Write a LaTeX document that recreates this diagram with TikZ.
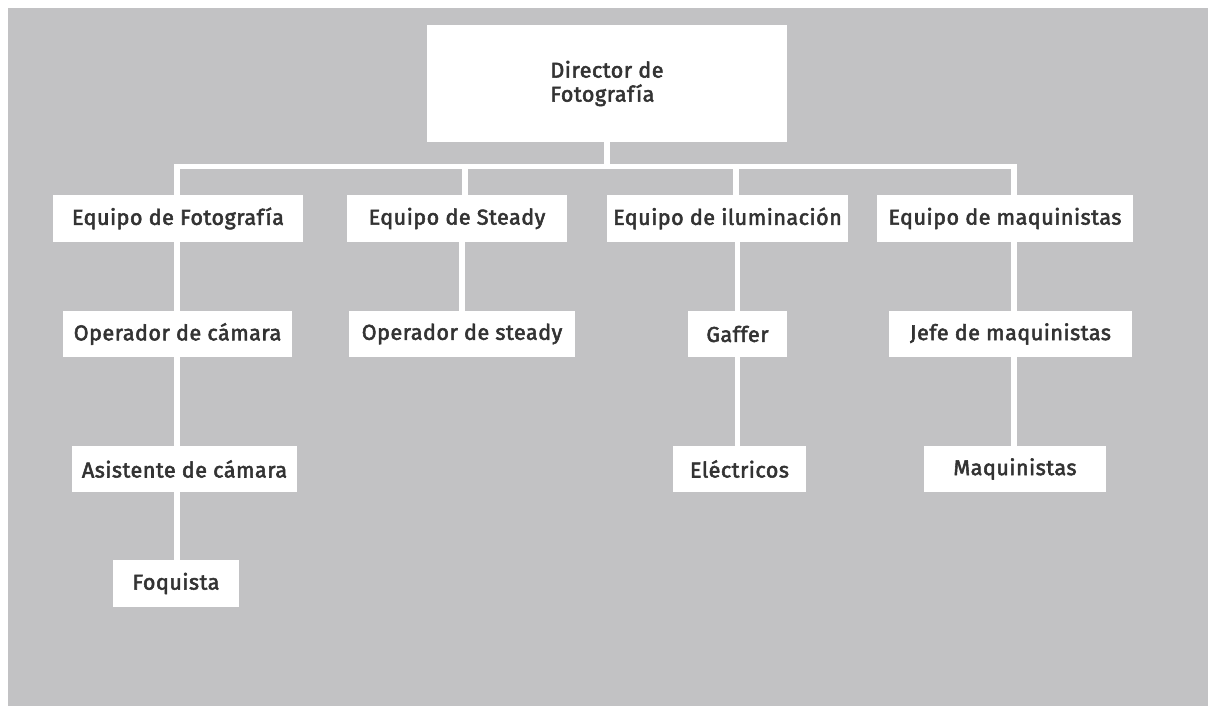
\documentclass[tikz,border=0pt]{standalone}
\usepackage{fontspec}
\setmainfont{Fira Sans}
\newfontfamily\boxfont{Fira Sans}[FakeBold=2.5, LetterSpace=2.5]
\pgfdeclarelayer{back}
\pgfdeclarelayer{lines}
\pgfsetlayers{back,lines,main}
\definecolor{bggray}{HTML}{C2C2C4}
\definecolor{txt}{HTML}{333333}
\tikzset{
  box/.style={fill=white, draw=none, inner sep=0pt, minimum height=47pt, text=txt, font=\boxfont\fontsize{21.5}{24}\selectfont, align=center},
  conn/.style={draw=white, line width=5.5pt}
}
\begin{document}
\begin{tikzpicture}[x=1pt,y=-1pt]
\useasboundingbox (0,0) rectangle (1208,706);
\begin{pgfonlayer}{back}
  \fill[white] (0,0) rectangle (1208,706);
  \fill[bggray] (8,8) rectangle (1208,706);
\end{pgfonlayer}
\node[box, minimum width=360pt, minimum height=117pt, align=left] (dir) at (607,83.5) {Director de\\Fotografía};
\node[box, minimum width=250pt] (ef) at (178,218.5) {Equipo de Fotografía};
\node[box, minimum width=220pt] (es) at (457,218.5) {Equipo de Steady};
\node[box, minimum width=241pt] (ei) at (727.5,218.5) {Equipo de iluminación};
\node[box, minimum width=256pt] (em) at (1005,218.5) {Equipo de maquinistas};
\node[box, minimum width=229pt, minimum height=46pt] (oc) at (177.5,334) {Operador de cámara};
\node[box, minimum width=226pt, minimum height=46pt] (os) at (462,334) {Operador de steady};
\node[box, minimum width=99pt, minimum height=46pt] (ga) at (737.5,334) {Gaffer};
\node[box, minimum width=243pt, minimum height=46pt] (jm) at (1010.5,334) {Jefe de maquinistas};
\node[box, minimum width=225pt, minimum height=46pt] (ac) at (184.5,469) {Asistente de cámara};
\node[box, minimum width=133pt, minimum height=46pt] (el) at (739.5,469) {Eléctricos};
\node[box, minimum width=182pt, minimum height=46pt] (mq) at (1015,469) {Maquinistas};
\node[box, minimum width=126pt] (fq) at (176,583.5) {Foquista};
\coordinate (k1) at (177,166.5);
\coordinate (k2) at (465,166.5);
\coordinate (k3) at (736,166.5);
\coordinate (k4) at (1014,166.5);
\begin{pgfonlayer}{lines}
  \draw[conn] (dir) -- (dir |- k1);
  \draw[conn] (k1 |- ef) -- (k1) -- (k4) -- (k4 |- em);
  \draw[conn] (k2) -- (k2 |- es);
  \draw[conn] (k3) -- (k3 |- ei);
  \draw[conn] (k1 |- ef) -- (k1 |- oc);
  \draw[conn] (k1 |- oc) -- (k1 |- ac);
  \draw[conn] (k1 |- ac) -- (k1 |- fq);
  \draw[conn] (os |- es) -- (os);
  \draw[conn] (ga |- ei) -- (ga);
  \draw[conn] (ga) -- (ga |- el);
  \draw[conn] (k4 |- em) -- (k4 |- jm);
  \draw[conn] (k4 |- jm) -- (k4 |- mq);
\end{pgfonlayer}
\end{tikzpicture}
\end{document}
